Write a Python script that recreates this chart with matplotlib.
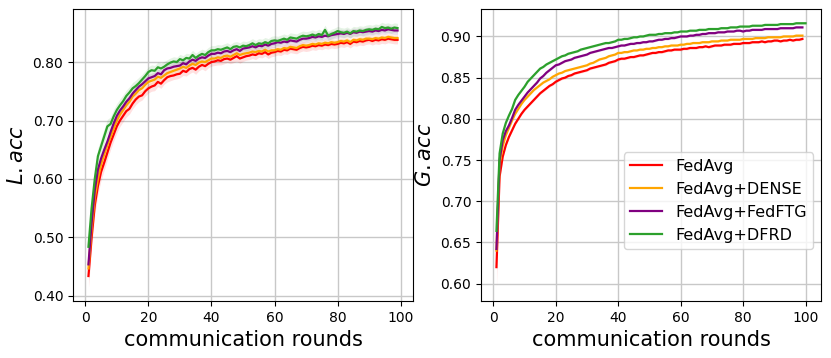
import numpy as np
import matplotlib
matplotlib.use('Agg')
from matplotlib import pyplot as plt
from matplotlib.ticker import FormatStrFormatter

labels = ['FedAvg', 'FedAvg+DENSE', 'FedAvg+FedFTG', 'FedAvg+DFRD']
colors = ['red', 'orange', 'purple', 'tab:green']

# local accuracy (left panel), rounds 1..99
l_fedavg = [0.434, 0.500, 0.555, 0.588, 0.612, 0.628, 0.645, 0.662, 0.676, 0.690,
            0.700, 0.708, 0.716, 0.720, 0.729, 0.736, 0.741, 0.743, 0.750, 0.755,
            0.758, 0.760, 0.766, 0.763, 0.769, 0.774, 0.776, 0.777, 0.779, 0.780,
            0.785, 0.783, 0.788, 0.790, 0.787, 0.792, 0.795, 0.793, 0.797, 0.800,
            0.801, 0.803, 0.802, 0.805, 0.806, 0.804, 0.807, 0.810, 0.806, 0.808,
            0.810, 0.811, 0.813, 0.812, 0.815, 0.814, 0.817, 0.813, 0.816, 0.817,
            0.819, 0.818, 0.821, 0.820, 0.823, 0.822, 0.821, 0.824, 0.826, 0.825,
            0.826, 0.828, 0.827, 0.829, 0.828, 0.830, 0.829, 0.831, 0.830, 0.831,
            0.833, 0.832, 0.834, 0.831, 0.835, 0.834, 0.836, 0.835, 0.837, 0.838,
            0.836, 0.838, 0.837, 0.839, 0.838, 0.840, 0.839, 0.838, 0.838]
l_dense = [0.447, 0.515, 0.568, 0.600, 0.625, 0.642, 0.658, 0.672, 0.686, 0.700,
           0.710, 0.718, 0.726, 0.732, 0.741, 0.746, 0.752, 0.755, 0.761, 0.766,
           0.768, 0.770, 0.775, 0.773, 0.777, 0.781, 0.783, 0.785, 0.787, 0.789,
           0.792, 0.790, 0.794, 0.797, 0.795, 0.799, 0.801, 0.800, 0.803, 0.806,
           0.806, 0.808, 0.807, 0.810, 0.811, 0.809, 0.812, 0.815, 0.812, 0.814,
           0.815, 0.816, 0.818, 0.817, 0.819, 0.818, 0.821, 0.818, 0.820, 0.820,
           0.822, 0.821, 0.824, 0.823, 0.826, 0.825, 0.824, 0.827, 0.829, 0.828,
           0.829, 0.831, 0.830, 0.832, 0.831, 0.833, 0.832, 0.834, 0.833, 0.834,
           0.836, 0.835, 0.837, 0.834, 0.838, 0.837, 0.839, 0.838, 0.840, 0.840,
           0.839, 0.841, 0.840, 0.842, 0.841, 0.843, 0.842, 0.841, 0.841]
l_fedftg = [0.454, 0.525, 0.580, 0.616, 0.635, 0.650, 0.664, 0.680, 0.695, 0.708,
            0.717, 0.724, 0.732, 0.738, 0.746, 0.752, 0.758, 0.762, 0.767, 0.772,
            0.774, 0.776, 0.781, 0.779, 0.786, 0.789, 0.790, 0.792, 0.793, 0.794,
            0.798, 0.796, 0.801, 0.804, 0.802, 0.806, 0.808, 0.807, 0.811, 0.814,
            0.814, 0.816, 0.815, 0.818, 0.819, 0.817, 0.820, 0.822, 0.819, 0.823,
            0.824, 0.825, 0.827, 0.825, 0.828, 0.827, 0.830, 0.828, 0.831, 0.832,
            0.834, 0.833, 0.835, 0.834, 0.837, 0.836, 0.835, 0.838, 0.840, 0.840,
            0.841, 0.843, 0.842, 0.844, 0.843, 0.845, 0.844, 0.846, 0.847, 0.848,
            0.849, 0.848, 0.850, 0.848, 0.851, 0.850, 0.852, 0.851, 0.852, 0.853,
            0.852, 0.854, 0.853, 0.855, 0.854, 0.856, 0.855, 0.854, 0.854]
l_dfrd = [0.484, 0.550, 0.600, 0.639, 0.656, 0.673, 0.690, 0.694, 0.707, 0.718,
          0.726, 0.733, 0.742, 0.748, 0.755, 0.759, 0.764, 0.770, 0.776, 0.783,
          0.786, 0.785, 0.791, 0.789, 0.792, 0.796, 0.799, 0.801, 0.800, 0.805,
          0.803, 0.807, 0.806, 0.812, 0.807, 0.811, 0.814, 0.812, 0.817, 0.820,
          0.820, 0.822, 0.821, 0.823, 0.825, 0.822, 0.826, 0.827, 0.825, 0.828,
          0.827, 0.829, 0.832, 0.829, 0.832, 0.831, 0.834, 0.832, 0.836, 0.837,
          0.836, 0.838, 0.840, 0.838, 0.842, 0.841, 0.840, 0.843, 0.845, 0.844,
          0.845, 0.847, 0.845, 0.848, 0.846, 0.855, 0.845, 0.848, 0.850, 0.853,
          0.851, 0.850, 0.852, 0.849, 0.853, 0.852, 0.854, 0.853, 0.855, 0.856,
          0.855, 0.857, 0.856, 0.860, 0.858, 0.859, 0.857, 0.859, 0.858]

# std bands of the left panel
l_std_fedavg = [0.020, 0.018, 0.016, 0.015, 0.014, 0.013, 0.012, 0.012, 0.011, 0.011,
                0.010, 0.010, 0.010, 0.009, 0.009, 0.009, 0.009, 0.008, 0.008, 0.008,
                0.008, 0.009, 0.008, 0.008, 0.007, 0.008, 0.008, 0.007, 0.008, 0.007,
                0.008, 0.007, 0.008, 0.007, 0.008, 0.007, 0.007, 0.008, 0.007, 0.007,
                0.007, 0.008, 0.007, 0.008, 0.007, 0.007, 0.008, 0.009, 0.008, 0.007,
                0.007, 0.007, 0.007, 0.008, 0.007, 0.007, 0.007, 0.007, 0.007, 0.007,
                0.007, 0.007, 0.007, 0.007, 0.007, 0.007, 0.007, 0.007, 0.007, 0.007,
                0.007, 0.007, 0.007, 0.007, 0.007, 0.007, 0.007, 0.007, 0.007, 0.007,
                0.007, 0.007, 0.007, 0.007, 0.007, 0.007, 0.007, 0.007, 0.007, 0.007,
                0.007, 0.007, 0.007, 0.007, 0.007, 0.007, 0.007, 0.007, 0.007]
l_std_dense = [0.012, 0.011, 0.010, 0.009, 0.008, 0.008, 0.007, 0.007, 0.007, 0.006,
               0.006, 0.006, 0.006, 0.006, 0.006, 0.006, 0.006, 0.006, 0.006, 0.006,
               0.006, 0.006, 0.006, 0.006, 0.006, 0.006, 0.006, 0.006, 0.006, 0.006,
               0.006, 0.006, 0.006, 0.006, 0.006, 0.006, 0.006, 0.006, 0.006, 0.006,
               0.006, 0.006, 0.006, 0.006, 0.006, 0.006, 0.006, 0.006, 0.006, 0.006,
               0.006, 0.006, 0.006, 0.006, 0.006, 0.006, 0.006, 0.006, 0.006, 0.006,
               0.006, 0.006, 0.006, 0.006, 0.006, 0.006, 0.006, 0.006, 0.006, 0.006,
               0.006, 0.006, 0.006, 0.006, 0.006, 0.006, 0.006, 0.006, 0.006, 0.006,
               0.006, 0.006, 0.006, 0.006, 0.006, 0.006, 0.006, 0.006, 0.006, 0.006,
               0.006, 0.006, 0.006, 0.006, 0.006, 0.006, 0.006, 0.006, 0.006]
l_std_fedftg = [0.012, 0.011, 0.010, 0.009, 0.008, 0.008, 0.007, 0.007, 0.007, 0.007,
                0.007, 0.007, 0.007, 0.007, 0.007, 0.007, 0.007, 0.007, 0.007, 0.007,
                0.007, 0.007, 0.007, 0.007, 0.007, 0.007, 0.007, 0.007, 0.007, 0.007,
                0.007, 0.007, 0.007, 0.007, 0.007, 0.007, 0.007, 0.007, 0.007, 0.007,
                0.007, 0.007, 0.007, 0.007, 0.007, 0.007, 0.007, 0.007, 0.007, 0.007,
                0.007, 0.007, 0.007, 0.007, 0.007, 0.007, 0.007, 0.007, 0.007, 0.007,
                0.007, 0.007, 0.007, 0.007, 0.007, 0.007, 0.007, 0.007, 0.007, 0.007,
                0.007, 0.007, 0.007, 0.007, 0.007, 0.007, 0.007, 0.007, 0.007, 0.007,
                0.007, 0.007, 0.007, 0.007, 0.007, 0.007, 0.007, 0.007, 0.007, 0.007,
                0.007, 0.007, 0.007, 0.007, 0.007, 0.007, 0.007, 0.007, 0.007]
l_std_dfrd = [0.015, 0.015, 0.014, 0.014, 0.013, 0.013, 0.012, 0.012, 0.012, 0.011,
              0.011, 0.011, 0.010, 0.010, 0.010, 0.010, 0.010, 0.009, 0.009, 0.009,
              0.009, 0.009, 0.009, 0.009, 0.009, 0.008, 0.008, 0.008, 0.008, 0.008,
              0.008, 0.008, 0.008, 0.008, 0.008, 0.008, 0.008, 0.008, 0.008, 0.008,
              0.008, 0.008, 0.008, 0.008, 0.008, 0.008, 0.008, 0.008, 0.008, 0.008,
              0.008, 0.008, 0.008, 0.008, 0.008, 0.008, 0.008, 0.008, 0.008, 0.008,
              0.008, 0.008, 0.008, 0.008, 0.008, 0.008, 0.008, 0.008, 0.008, 0.008,
              0.008, 0.008, 0.008, 0.008, 0.008, 0.008, 0.008, 0.008, 0.008, 0.008,
              0.008, 0.008, 0.008, 0.008, 0.008, 0.008, 0.008, 0.008, 0.008, 0.008,
              0.008, 0.008, 0.008, 0.008, 0.008, 0.008, 0.008, 0.008, 0.008]

# global accuracy (right panel)
g_fedavg = [0.620, 0.730, 0.754, 0.768, 0.778, 0.786, 0.794, 0.800, 0.806, 0.811,
            0.815, 0.819, 0.823, 0.827, 0.831, 0.834, 0.837, 0.840, 0.842, 0.845,
            0.847, 0.849, 0.850, 0.852, 0.853, 0.855, 0.856, 0.857, 0.858, 0.859,
            0.861, 0.862, 0.863, 0.864, 0.865, 0.866, 0.868, 0.869, 0.870, 0.872,
            0.873, 0.873, 0.874, 0.875, 0.875, 0.876, 0.877, 0.877, 0.878, 0.879,
            0.880, 0.880, 0.881, 0.881, 0.882, 0.883, 0.883, 0.884, 0.884, 0.884,
            0.885, 0.885, 0.886, 0.886, 0.886, 0.887, 0.887, 0.888, 0.887, 0.888,
            0.889, 0.889, 0.889, 0.890, 0.890, 0.890, 0.891, 0.891, 0.891, 0.892,
            0.892, 0.892, 0.893, 0.893, 0.893, 0.894, 0.893, 0.894, 0.894, 0.895,
            0.895, 0.894, 0.895, 0.895, 0.896, 0.895, 0.896, 0.896, 0.897]
g_dense = [0.640, 0.745, 0.767, 0.780, 0.789, 0.798, 0.806, 0.812, 0.818, 0.823,
           0.827, 0.831, 0.835, 0.838, 0.841, 0.844, 0.846, 0.848, 0.851, 0.853,
           0.855, 0.856, 0.858, 0.859, 0.860, 0.861, 0.862, 0.863, 0.864, 0.865,
           0.867, 0.868, 0.870, 0.872, 0.873, 0.874, 0.876, 0.877, 0.878, 0.880,
           0.880, 0.881, 0.881, 0.882, 0.883, 0.883, 0.884, 0.884, 0.885, 0.885,
           0.886, 0.886, 0.887, 0.887, 0.888, 0.888, 0.889, 0.889, 0.889, 0.890,
           0.890, 0.891, 0.891, 0.892, 0.892, 0.892, 0.893, 0.893, 0.893, 0.894,
           0.894, 0.894, 0.895, 0.895, 0.895, 0.896, 0.896, 0.896, 0.896, 0.897,
           0.897, 0.897, 0.897, 0.898, 0.898, 0.898, 0.898, 0.899, 0.899, 0.899,
           0.899, 0.899, 0.900, 0.900, 0.900, 0.900, 0.901, 0.901, 0.901]
g_fedftg = [0.642, 0.750, 0.774, 0.785, 0.792, 0.801, 0.811, 0.817, 0.822, 0.827,
            0.832, 0.836, 0.840, 0.844, 0.849, 0.852, 0.856, 0.859, 0.862, 0.865,
            0.866, 0.868, 0.870, 0.871, 0.872, 0.874, 0.875, 0.876, 0.877, 0.878,
            0.880, 0.881, 0.882, 0.883, 0.884, 0.885, 0.886, 0.886, 0.887, 0.888,
            0.889, 0.889, 0.890, 0.891, 0.891, 0.892, 0.892, 0.893, 0.893, 0.894,
            0.894, 0.895, 0.896, 0.896, 0.897, 0.897, 0.898, 0.898, 0.899, 0.900,
            0.900, 0.900, 0.901, 0.901, 0.902, 0.902, 0.903, 0.903, 0.904, 0.904,
            0.904, 0.905, 0.905, 0.905, 0.906, 0.906, 0.906, 0.907, 0.907, 0.906,
            0.907, 0.907, 0.908, 0.908, 0.908, 0.908, 0.909, 0.909, 0.909, 0.909,
            0.909, 0.910, 0.910, 0.910, 0.910, 0.910, 0.911, 0.911, 0.911]
g_dfrd = [0.664, 0.758, 0.782, 0.795, 0.804, 0.812, 0.823, 0.829, 0.834, 0.839,
          0.845, 0.849, 0.853, 0.857, 0.861, 0.863, 0.866, 0.868, 0.870, 0.872,
          0.874, 0.876, 0.877, 0.879, 0.880, 0.881, 0.882, 0.884, 0.885, 0.886,
          0.887, 0.888, 0.889, 0.890, 0.891, 0.892, 0.892, 0.893, 0.894, 0.896,
          0.896, 0.897, 0.897, 0.898, 0.899, 0.899, 0.900, 0.900, 0.901, 0.902,
          0.902, 0.902, 0.903, 0.903, 0.904, 0.904, 0.904, 0.905, 0.905, 0.906,
          0.906, 0.906, 0.907, 0.907, 0.907, 0.908, 0.908, 0.908, 0.909, 0.909,
          0.909, 0.909, 0.910, 0.910, 0.910, 0.911, 0.911, 0.911, 0.912, 0.912,
          0.912, 0.912, 0.913, 0.913, 0.913, 0.913, 0.914, 0.914, 0.914, 0.914,
          0.914, 0.915, 0.915, 0.915, 0.915, 0.915, 0.916, 0.916, 0.916, 0.916]

# std bands of the right panel (only visible in the first rounds)
g_std_fedavg = [0.025, 0.006, 0.003] + [0.0015] * 96
g_std_dense = [0.010, 0.004, 0.002] + [0.0012] * 96
g_std_fedftg = [0.010, 0.004, 0.002] + [0.0012] * 96
g_std_dfrd = [0.008, 0.004, 0.002] + [0.0012] * 97

left_data = [(l_fedavg, l_std_fedavg), (l_dense, l_std_dense),
             (l_fedftg, l_std_fedftg), (l_dfrd, l_std_dfrd)]
right_data = [(g_fedavg, g_std_fedavg), (g_dense, g_std_dense),
              (g_fedftg, g_std_fedftg), (g_dfrd, g_std_dfrd)]

fig = plt.figure(figsize=(8.31, 3.58), dpi=100)
ax1 = fig.add_axes([73 / 831, 1 - 301 / 358, 340 / 831, 292 / 358])
ax2 = fig.add_axes([481 / 831, 1 - 301 / 358, 340 / 831, 292 / 358])

for ax, data in [(ax1, left_data), (ax2, right_data)]:
    for (vals, std), c, lab in zip(data, colors, labels):
        v = np.array(vals)
        s = np.array(std)
        x = np.arange(1, len(v) + 1)
        ax.plot(x, v, color=c, lw=1.6, label=lab)
        ax.fill_between(x, v - s, v + s, color=c, alpha=0.12, lw=0)
    ax.grid(True, color='#c8c8c8', lw=1)
    ax.set_axisbelow(True)
    ax.set_xticks([0, 20, 40, 60, 80, 100])
    ax.tick_params(labelsize=10)
    ax.yaxis.set_major_formatter(FormatStrFormatter('%.2f'))
    ax.set_xlabel('communication rounds', fontsize=15)

ax1.set_yticks([0.4, 0.5, 0.6, 0.7, 0.8])
ax1.set_ylabel('$L.acc$', fontsize=15)
ax2.set_yticks([0.6, 0.65, 0.7, 0.75, 0.8, 0.85, 0.9])
ax2.set_ylabel('$G.acc$', fontsize=15)
ax2.legend(loc='lower right', bbox_to_anchor=(1, 0.15), fontsize=11.5)

plt.savefig('out.png', dpi=100)
